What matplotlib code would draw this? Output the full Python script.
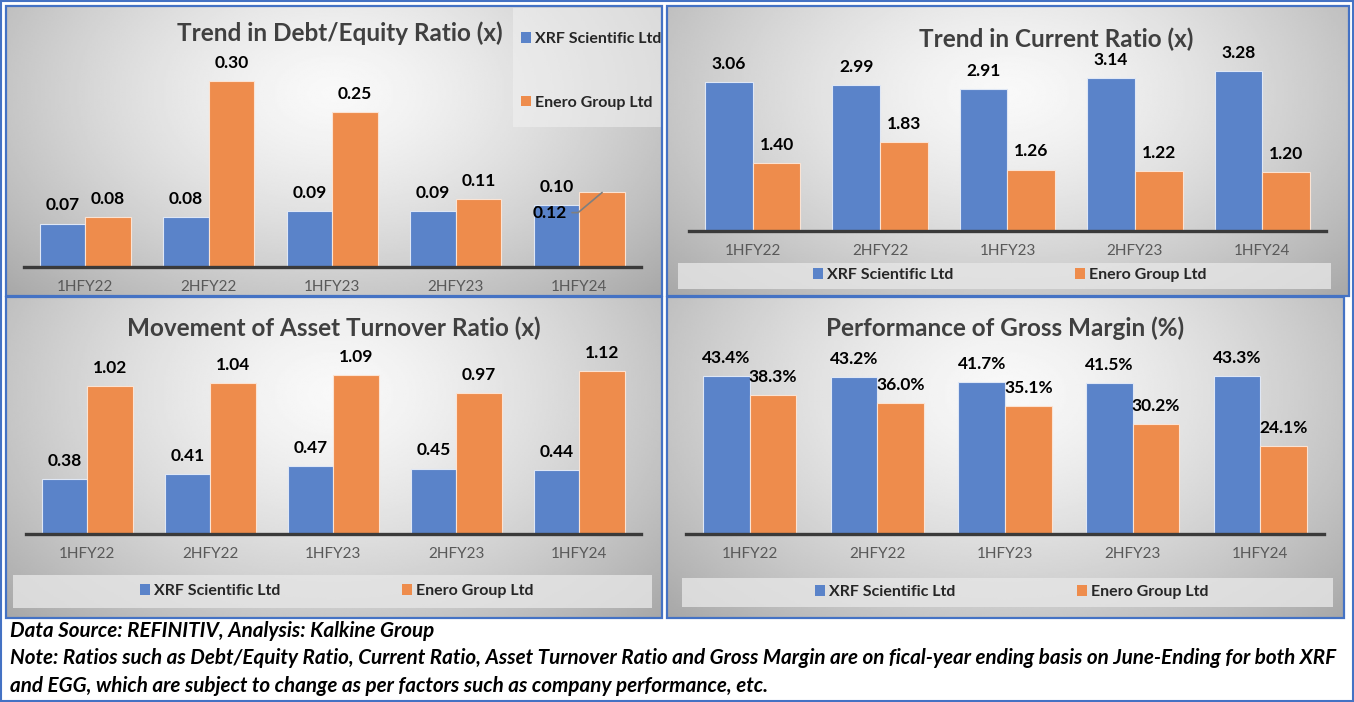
import numpy as np
import matplotlib
matplotlib.use('Agg')
import matplotlib.pyplot as plt
from matplotlib.patches import Rectangle, Patch

# ---------------- data ----------------
categories = ['1HFY22', '2HFY22', '1HFY23', '2HFY23', '1HFY24']
series_names = ['XRF Scientific Ltd', 'Enero Group Ltd']
de_xrf = [0.07, 0.08, 0.09, 0.09, 0.10]
de_enero = [0.08, 0.30, 0.25, 0.11, 0.12]
cr_xrf = [3.06, 2.99, 2.91, 3.14, 3.28]
cr_enero = [1.40, 1.83, 1.26, 1.22, 1.20]
at_xrf = [0.38, 0.41, 0.47, 0.45, 0.44]
at_enero = [1.02, 1.04, 1.09, 0.97, 1.12]
gm_xrf = [43.4, 43.2, 41.7, 41.5, 43.3]
gm_enero = [38.3, 36.0, 35.1, 30.2, 24.1]
titles = ['Trend in Debt/Equity Ratio (x)', 'Trend in Current Ratio (x)',
          'Movement of Asset Turnover Ratio (x)', 'Performance of Gross Margin (%)']
footer_lines = [
    'Data Source: REFINITIV, Analysis: Kalkine Group',
    'Note: Ratios such as Debt/Equity Ratio, Current Ratio, Asset Turnover Ratio and Gross Margin are on fical-year ending basis on June-Ending for both XRF',
    'and EGG, which are subject to change as per factors such as company performance, etc.',
]

# ---------------- style ----------------
FONT = ['Lato', 'DejaVu Sans']
plt.rcParams['font.family'] = FONT
BLUE = '#5A83C9'
ORANGE = '#EE8C4C'
FRAME = '#4472C4'
W, H = 1354, 702

fig = plt.figure(figsize=(W / 100, H / 100), dpi=100)
fig.patch.set_facecolor('white')


def frect(x0, y0, x1, y1):
    return [x0 / W, 1 - y1 / H, (x1 - x0) / W, (y1 - y0) / H]


def fx(x):
    return x / W


def fy(y):
    return 1 - y / H


def background(x0, y0, x1, y1):
    ax = fig.add_axes(frect(x0, y0, x1, y1), zorder=0)
    yy, xx = np.mgrid[0:1:220j, 0:1:330j]
    d = np.sqrt(((xx - 0.5) / 0.55) ** 2 + ((yy - 0.30) / 0.80) ** 2)
    val = 0.975 - 0.23 * np.clip(d, 0, 1.3) ** 1.4
    ax.imshow(val, cmap='gray', vmin=0, vmax=1, extent=[0, 1, 0, 1],
              aspect='auto', origin='upper', interpolation='bilinear')
    ax.set_axis_off()
    fig.patches.append(Rectangle((fx(x0), fy(y1)), (x1 - x0) / W, (y1 - y0) / H,
                                 transform=fig.transFigure, fill=False,
                                 edgecolor=FRAME, linewidth=1.6, zorder=5))


def bars(ax_px, ppu, xrf, enero, width):
    x0, ytop, x1, base = ax_px
    ax = fig.add_axes(frect(x0, ytop, x1, base), zorder=2)
    ax.patch.set_alpha(0)
    x = np.arange(len(categories))
    ax.bar(x - width / 2, xrf, width, color=BLUE, edgecolor='#dfe7f5', linewidth=0.8, zorder=2)
    ax.bar(x + width / 2, enero, width, color=ORANGE, edgecolor='#fbe3d3', linewidth=0.8, zorder=2)
    ax.set_xlim(-0.5, len(categories) - 0.5)
    ax.set_ylim(0, (base - ytop) / ppu)
    for s in ['top', 'left', 'right']:
        ax.spines[s].set_visible(False)
    ax.spines['bottom'].set_color('#3a3a3a')
    ax.spines['bottom'].set_linewidth(2.4)
    ax.spines['bottom'].set_zorder(3)
    ax.set_yticks([])
    ax.set_xticks(x)
    ax.set_xticklabels(categories, fontsize=11, color='#595959')
    ax.tick_params(axis='x', length=0, pad=9.5)
    return ax, x


def label(ax, xpos, v, fmt, dx=0, dy=13, **kw):
    return ax.annotate(fmt(v), xy=(xpos, v), xytext=(dx, dy), textcoords='offset points',
                       ha='center', va='center', fontsize=12.5, fontweight='bold',
                       color='black', annotation_clip=False, zorder=4, **kw)


handles = [Patch(facecolor=BLUE), Patch(facecolor=ORANGE)]
leg_prop = {'family': FONT, 'weight': 'bold', 'size': 11.5}


def hlegend(box, cx, cy):
    bx0, by0, bx1, by1 = box
    fig.patches.append(Rectangle((fx(bx0), fy(by1)), (bx1 - bx0) / W, (by1 - by0) / H,
                                 transform=fig.transFigure, facecolor='#e6e6e6',
                                 alpha=0.8, edgecolor='none', zorder=1))
    lg = fig.legend(handles, series_names, loc='center', bbox_to_anchor=(fx(cx), fy(cy)),
                    ncol=2, frameon=False, prop=leg_prop, handlelength=0.62,
                    handleheight=0.62, handletextpad=0.25, columnspacing=7.6,
                    borderpad=0, borderaxespad=0)
    for t in lg.get_texts():
        t.set_color('#262626')
    lg.set_zorder(6)


def title(txt, cx, cy):
    fig.text(fx(cx), fy(cy), txt, ha='center', va='center', fontsize=17.5,
             fontweight='bold', color='#404040', zorder=6)


two_dec = lambda v: f'{v:.2f}'
pct = lambda v: f'{v:.1f}%'

# ---------------- panel 1: Debt/Equity ----------------
background(6, 6, 662, 296)
fig.patches.append(Rectangle((fx(513), fy(127)), 149 / W, 119 / H, transform=fig.transFigure,
                             facecolor='#f2f2f2', alpha=0.55, edgecolor='none', zorder=1))
ax, x = bars((23.5, 60, 641, 267), 621, de_xrf, de_enero, 0.37)
for i in range(len(categories)):
    label(ax, x[i] - 0.185, de_xrf[i], two_dec)
    if i < len(categories) - 1:
        label(ax, x[i] + 0.185, de_enero[i], two_dec)
label(ax, x[-1] + 0.185, de_enero[-1], two_dec, dx=-38, dy=-14.5,
      arrowprops=dict(arrowstyle='-', color='#7f7f7f', lw=1.2,
                      connectionstyle='angle,angleA=0,angleB=40,rad=0',
                      shrinkA=2, shrinkB=0))
title(titles[0], 340, 33)
lg = fig.legend(handles, series_names, loc='upper left', bbox_to_anchor=(fx(521), fy(32)),
                frameon=False, prop=leg_prop, handlelength=0.62, handleheight=0.62,
                handletextpad=0.25, labelspacing=3.1, borderpad=0, borderaxespad=0)
for t in lg.get_texts():
    t.set_color('#262626')
lg.set_zorder(6)

# ---------------- panel 2: Current ratio ----------------
background(667, 6, 1349, 296)
ax, x = bars((689, 60, 1326, 231), 48.8, cr_xrf, cr_enero, 0.375)
for i in range(len(categories)):
    label(ax, x[i] - 0.1875, cr_xrf[i], two_dec)
    label(ax, x[i] + 0.1875, cr_enero[i], two_dec)
title(titles[1], 1056, 39)
hlegend((678, 263, 1331, 289), 1010, 275)

# ---------------- panel 3: Asset turnover ----------------
background(6, 297, 662, 618)
ax, x = bars((25.6, 360, 641, 534), 145.5, at_xrf, at_enero, 0.37)
for i in range(len(categories)):
    label(ax, x[i] - 0.185, at_xrf[i], two_dec)
    label(ax, x[i] + 0.185, at_enero[i], two_dec)
title(titles[2], 334, 328)
hlegend((13, 575, 652, 608), 337, 591)

# ---------------- panel 4: Gross margin ----------------
background(667, 297, 1344, 618)
ax, x = bars((686, 350, 1324, 534), 3.64, gm_xrf, gm_enero, 0.365)
for i in range(len(categories)):
    label(ax, x[i] - 0.1825, gm_xrf[i], pct)
    label(ax, x[i] + 0.1825, gm_enero[i], pct)
title(titles[3], 1005, 328)
hlegend((682, 578, 1333, 607), 1012, 592)

# ---------------- footer ----------------
foot = []
for t, yy in zip(footer_lines, [631, 658, 686]):
    foot.append(fig.text(fx(10), fy(yy), t, ha='left', va='center', fontsize=12.5,
                         fontstyle='italic', fontweight='bold', color='black'))
renderer = fig.canvas.get_renderer()
wpx = foot[1].get_window_extent(renderer).width
scale = 1324 / wpx
for t in foot:
    t.set_fontsize(12.5 * scale)

# outer frame
fig.patches.append(Rectangle((1 / W, 1 / H), (W - 2) / W, (H - 2) / H, transform=fig.transFigure,
                             fill=False, edgecolor=FRAME, linewidth=1.5, zorder=5))

fig.savefig('out.png', dpi=100)
